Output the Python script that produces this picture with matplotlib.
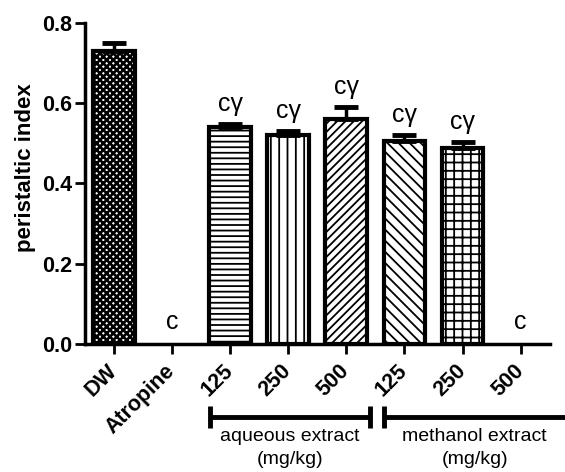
import matplotlib
matplotlib.use("Agg")
import matplotlib.pyplot as plt
import matplotlib.transforms as mtransforms

plt.rcParams["font.family"] = ["Liberation Sans", "DejaVu Sans"]
plt.rcParams["hatch.linewidth"] = 1.3

# data
categories = ["DW", "Atropine", "125", "250", "500", "125", "250", "500"]
means = [0.73, 0.0, 0.54, 0.52, 0.56, 0.505, 0.487, 0.0]
errors = [0.02, 0.0, 0.008, 0.01, 0.03, 0.015, 0.016, 0.0]
marks = ["", "c", "c\u03b3", "c\u03b3", "c\u03b3", "c\u03b3", "c\u03b3", "c"]
hatches = ["xxxxx", "", "---", "||", "////", "\\\\\\", "++", ""]
groups = [("aqueous extract\n(mg/kg)", 1.66, 4.41), ("methanol extract\n(mg/kg)", 4.64, 8.2)]

fig = plt.figure(figsize=(5.65, 4.72), dpi=100)
ax = fig.add_axes([0.150, 0.271, 0.823, 0.681])

x = list(range(len(categories)))
for xi, m, e, h in zip(x, means, errors, hatches):
    if m <= 0:
        continue
    # the DW checker pattern is darker than the others
    with matplotlib.rc_context({"hatch.linewidth": 1.9 if h.startswith("x") else 1.3}):
        ax.bar(xi, m, width=0.72, color="white", edgecolor="black", linewidth=3, hatch=h, zorder=2)
    ax.errorbar(xi, m, yerr=[[0], [e]], fmt="none", ecolor="black", elinewidth=2.5,
                capsize=8.5, capthick=3.5, zorder=3)

for xi, m, e, t in zip(x, means, errors, marks):
    y = 0.037 if m <= 0 else m + e + 0.032
    ax.text(xi, y, t, ha="center", va="baseline", fontsize=18)

ax.set_xlim(-0.5, 7.5)
ax.set_ylim(0, 0.8)
ax.set_yticks([0.0, 0.2, 0.4, 0.6, 0.8])
ax.set_yticklabels(["0.0", "0.2", "0.4", "0.6", "0.8"], fontsize=15.5, fontweight="bold")
ax.set_xticks(x)
ax.set_xticklabels(categories, rotation=45, ha="right", va="center", rotation_mode="anchor",
                   fontsize=15.5, fontweight="bold")
shift = mtransforms.ScaledTranslation(7 / 100, 0, fig.dpi_scale_trans)
for lbl in ax.get_xticklabels():
    lbl.set_transform(lbl.get_transform() + shift)
ax.set_ylabel("peristaltic index", fontsize=16, fontweight="bold")
ax.yaxis.set_label_coords(-0.105, 0.55)
ax.spines["top"].set_visible(False)
ax.spines["right"].set_visible(False)
ax.spines["left"].set_linewidth(2.5)
ax.spines["bottom"].set_linewidth(2.5)
ax.tick_params(direction="out", length=7, width=2)
ax.tick_params(axis="y", pad=2)
ax.tick_params(axis="x", pad=10)

trans = mtransforms.blended_transform_factory(ax.transData, ax.transAxes)
by = -0.227
for label, x0, x1 in groups:
    ax.plot([x0, x1], [by, by], color="black", lw=3.5, transform=trans, clip_on=False,
            solid_capstyle="butt")
    for xe in (x0, x1):
        ax.plot([xe, xe], [by - 0.035, by + 0.035], color="black", lw=3.5, transform=trans,
                clip_on=False, solid_capstyle="butt")
    xc = (x0 + min(x1, 7.78)) / 2
    ax.text(xc, by - 0.035, label, ha="center", va="top", fontsize=14, transform=trans,
            linespacing=1.4)

fig.savefig("out.png", dpi=100)
